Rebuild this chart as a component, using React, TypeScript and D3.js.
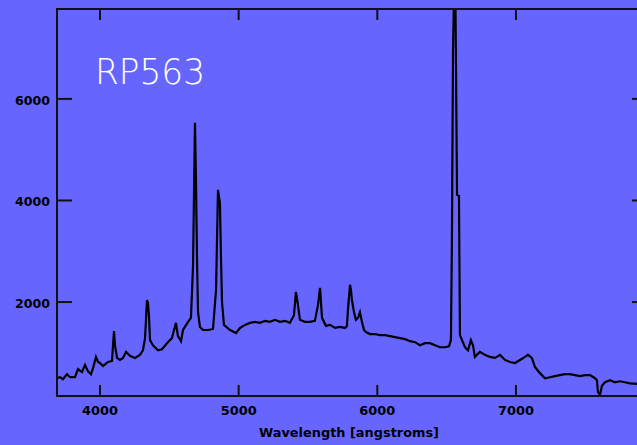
import React from "react";
import * as d3 from "d3";

// spectrum of RP563 (angstroms, counts)
const wavelength = [
  3690, 3712, 3733, 3762, 3784, 3820, 3841, 3870, 3892, 3913, 3935, 3950, 3971, 3986, 4000,
  4022, 4058, 4087, 4094, 4101, 4108, 4123, 4144, 4166, 4188, 4216, 4252, 4288, 4310, 4325,
  4339, 4346, 4353, 4361, 4382, 4418, 4447, 4483, 4519, 4534, 4548, 4562, 4584, 4599, 4635,
  4656, 4671, 4685, 4692, 4700, 4707, 4721, 4743, 4779, 4815, 4837, 4851, 4865, 4873, 4880,
  4894, 4938, 4981, 5010, 5046, 5082, 5118, 5154, 5190, 5226, 5262, 5298, 5334, 5370, 5399,
  5413, 5428, 5442, 5478, 5514, 5550, 5572, 5587, 5601, 5630, 5659, 5695, 5731, 5767, 5781,
  5788, 5803, 5810, 5817, 5832, 5846, 5861, 5875, 5889, 5904, 5918, 5947, 5983, 6019, 6055,
  6091, 6127, 6163, 6200, 6236, 6272, 6308, 6344, 6380, 6416, 6452, 6488, 6517, 6531, 6538,
  6546, 6560, 6575, 6589, 6596, 6611, 6632, 6654, 6675, 6690, 6704, 6740, 6776, 6812, 6849,
  6885, 6921, 6957, 6993, 7029, 7065, 7087, 7115, 7137, 7173, 7209, 7245, 7281, 7317, 7353,
  7389, 7425, 7461, 7497, 7534, 7570, 7584, 7591, 7606, 7620, 7642, 7678, 7714, 7750, 7786,
  7822, 7873,
];
const flux = [
  500, 520, 480, 580, 520, 520, 680, 620, 760, 640, 580, 700, 920, 820, 800,
  740, 820, 840, 1150, 1430, 1150, 900, 860, 900, 1020, 940, 900, 960, 1050, 1290,
  2040, 1980, 1740, 1250, 1150, 1050, 1070, 1190, 1290, 1450, 1590, 1330, 1230, 1450, 1610,
  1690, 2710, 5530, 4440, 2830, 1800, 1510, 1450, 1450, 1470, 2240, 4210, 3950, 2830, 2000,
  1550, 1450, 1390, 1490, 1550, 1590, 1610, 1590, 1630, 1610, 1650, 1610, 1630, 1590, 1740,
  2200, 1940, 1650, 1610, 1610, 1630, 1940, 2280, 1690, 1530, 1550, 1490, 1510, 1490, 1530,
  1840, 2340, 2240, 2040, 1800, 1650, 1690, 1800, 1610, 1450, 1410, 1370, 1370, 1350, 1350,
  1330, 1310, 1290, 1270, 1230, 1210, 1150, 1190, 1190, 1150, 1110, 1110, 1130, 1250, 3220,
  6960, 9100, 4110, 4090, 1350, 1250, 1110, 1050, 1250, 1150, 920, 1020, 960, 920, 900,
  960, 860, 820, 800, 860, 920, 960, 900, 720, 600, 500, 520, 540, 560, 580,
  580, 560, 540, 560, 560, 500, 460, 230, 170, 350, 420, 460, 420, 440, 420,
  400, 390,
];
const xTicks = [4000, 5000, 6000, 7000];
const yTicks = [2000, 4000, 6000];
const title = "RP563";
const xLabel = "Wavelength [angstroms]";

const W = 637;
const H = 445;
const bg = "#6666ff";

export default function App() {
  const left = 57, right = 647, top = 9, bottom = 396;
  const x = d3.scaleLinear().domain([3690, 7945]).range([left, right]);
  const y = d3.scaleLinear().domain([150, 7770]).range([bottom, top]);
  const pts: [number, number][] = wavelength.map((w, i) => [w, flux[i]]);
  const line = d3.line<[number, number]>()
    .x((d) => x(d[0]))
    .y((d) => y(d[1]));
  const labelFont = "'DejaVu Sans', sans-serif";

  return (
    <svg
      width={W}
      height={H}
      style={{ position: "absolute", left: 0, top: 0, background: bg }}
    >
      <rect x={0} y={0} width={W} height={H} fill={bg} />
      <defs>
        <clipPath id="plot">
          <rect x={left} y={top} width={right - left} height={bottom - top} />
        </clipPath>
      </defs>

      {/* spectrum */}
      <path
        d={line(pts) || ""}
        fill="none"
        stroke="#000"
        strokeWidth={2.2}
        strokeLinejoin="miter"
        clipPath="url(#plot)"
      />

      {/* frame */}
      <rect
        x={left}
        y={top}
        width={right - left}
        height={bottom - top}
        fill="none"
        stroke="#111"
        strokeWidth={2}
      />

      {/* x ticks, top and bottom */}
      {xTicks.map((t) => (
        <g key={t}>
          <line x1={x(t)} x2={x(t)} y1={bottom} y2={bottom - 11} stroke="#111" strokeWidth={2} />
          <line x1={x(t)} x2={x(t)} y1={top} y2={top + 11} stroke="#111" strokeWidth={2} />
          <text
            x={x(t)}
            y={415}
            textAnchor="middle"
            fontFamily={labelFont}
            fontWeight="bold"
            fontSize={12}
            textLength={36}
            lengthAdjust="spacingAndGlyphs"
            fill="#000"
          >
            {t}
          </text>
        </g>
      ))}

      {/* y ticks, left and right */}
      {yTicks.map((t) => (
        <g key={t}>
          <line x1={left} x2={left + 15} y1={y(t)} y2={y(t)} stroke="#111" strokeWidth={2} />
          <line x1={right} x2={right - 15} y1={y(t)} y2={y(t)} stroke="#111" strokeWidth={2} />
          <text
            x={50}
            y={y(t) + 6}
            textAnchor="end"
            fontFamily={labelFont}
            fontWeight="bold"
            fontSize={12}
            textLength={35}
            lengthAdjust="spacingAndGlyphs"
            fill="#000"
          >
            {t}
          </text>
        </g>
      ))}

      {/* axis title */}
      <text
        x={349}
        y={437}
        textAnchor="middle"
        fontFamily={labelFont}
        fontWeight="bold"
        fontSize={12}
        textLength={180}
        lengthAdjust="spacingAndGlyphs"
        fill="#000"
      >
        {xLabel}
      </text>

      {/* object name */}
      <text
        x={95}
        y={84}
        fontFamily="'DejaVu Sans', sans-serif"
        fontWeight={200}
        fontSize={35}
        textLength={110}
        lengthAdjust="spacingAndGlyphs"
        fill="#fff"
      >
        {title}
      </text>
    </svg>
  );
}
